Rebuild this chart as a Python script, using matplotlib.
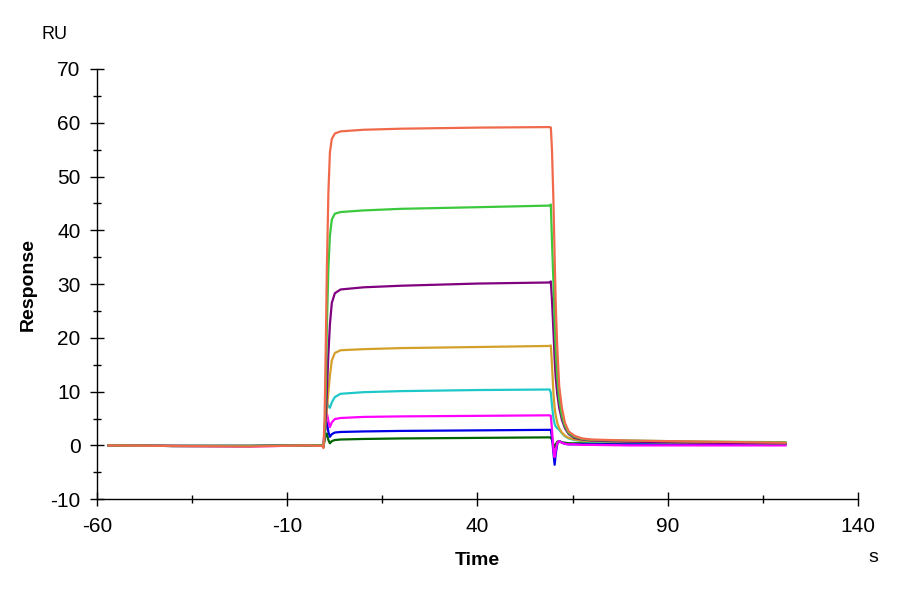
import numpy as np
import matplotlib
matplotlib.use('Agg')
import matplotlib.pyplot as plt
from matplotlib.ticker import MultipleLocator, FixedLocator

plt.rcParams['font.family'] = ['Liberation Sans', 'DejaVu Sans']
plt.rcParams['axes.unicode_minus'] = False

t = [-57, -40, -20, -5, -0.8, -0.5, -0.2, 0.1, 0.4, 0.8, 1.2, 1.7, 2.5, 4, 10, 20, 40,
     59.0, 59.3, 59.6, 60.0, 60.3, 60.6, 61.0, 61.5, 62.2, 63.0, 64.0, 65.5, 67.5, 70, 80, 100, 121]

# Respuesta (RU) de cada concentración
r_darkgreen = [0.0, -0.1, -0.1, 0.0, 0.0, -0.2, 1.0, 2.0, 2.2, 1.0, 0.4, 0.8, 1.0, 1.1, 1.2, 1.3, 1.4,
               1.5, 1.5, 1.0, 0.2, -0.4, 0.2, 0.7, 0.8, 0.6, 0.5, 0.4, 0.4, 0.4, 0.4, 0.3, 0.3, 0.3]
r_blue = [0.0, -0.1, -0.1, 0.0, 0.0, -0.2, 2.0, 4.0, 4.3, 2.5, 1.6, 2.1, 2.4, 2.5, 2.6, 2.7, 2.8,
          2.9, 2.9, 1.5, -1.5, -3.6, -1.5, 0.3, 0.8, 0.5, 0.3, 0.2, 0.2, 0.2, 0.2, 0.2, 0.2, 0.2]
r_magenta = [0.0, -0.1, -0.2, 0.0, 0.0, -0.2, 3.0, 5.5, 6.0, 4.5, 3.4, 4.3, 4.9, 5.1, 5.3, 5.4, 5.5,
             5.6, 5.5, 3.0, -1.0, -2.2, -0.8, 0.5, 0.8, 0.5, 0.3, 0.2, 0.2, 0.1, 0.1, 0.0, 0.0, 0.0]
r_cyan = [0.0, -0.1, -0.1, 0.0, 0.0, -0.2, 3.0, 6.5, 8.0, 7.3, 7.0, 8.0, 9.0, 9.6, 9.9, 10.1, 10.3,
          10.4, 9.8, 7.5, 5.0, 4.0, 3.5, 3.2, 2.9, 2.3, 1.7, 1.3, 1.0, 0.8, 0.7, 0.6, 0.5, 0.4]
r_orange = [0.0, -0.1, -0.1, 0.0, 0.0, -0.2, 1.5, 4.0, 6.5, 10.0, 13.0, 15.8, 17.2, 17.7, 17.9, 18.1, 18.3,
            18.5, 18.6, 15.0, 9.5, 7.0, 5.5, 4.2, 3.2, 2.4, 1.8, 1.4, 1.1, 0.9, 0.8, 0.7, 0.5, 0.4]
r_purple = [0.0, -0.1, -0.1, 0.0, 0.0, -0.2, 1.5, 5.0, 10.0, 17.0, 22.5, 26.5, 28.3, 29.0, 29.4, 29.7, 30.1,
            30.3, 30.5, 27.0, 21.0, 16.0, 12.5, 9.5, 7.0, 4.8, 3.2, 2.1, 1.4, 1.1, 0.9, 0.7, 0.5, 0.4]
r_green = [0.0, -0.1, -0.1, 0.0, 0.0, -0.3, 2.0, 10.0, 22.0, 33.0, 39.0, 42.0, 43.1, 43.4, 43.7, 44.0, 44.3,
           44.6, 44.8, 38.0, 30.0, 23.0, 17.5, 12.5, 8.5, 5.5, 3.6, 2.3, 1.6, 1.2, 1.0, 0.9, 0.7, 0.6]
r_red = [0.0, -0.1, -0.2, 0.0, -0.1, -0.5, 5.0, 18.0, 33.0, 47.0, 54.5, 57.0, 58.0, 58.4, 58.7, 58.9, 59.1,
         59.2, 59.1, 55.0, 45.0, 35.0, 26.0, 18.0, 11.0, 7.0, 4.2, 2.6, 1.8, 1.3, 1.1, 0.9, 0.7, 0.5]

curvas = [
    (r_darkgreen, '#006400'),
    (r_blue, '#0000E6'),
    (r_magenta, '#FF00FF'),
    (r_cyan, '#1EC8C8'),
    (r_orange, '#D4A02A'),
    (r_purple, '#800080'),
    (r_green, '#3CC83C'),
    (r_red, '#F0694B'),
]

x_ticks = [-60, -10, 40, 90, 140]
x_minor = [-35, 15, 65, 115]

fig = plt.figure(figsize=(9, 6), dpi=100)
ax = fig.add_axes([0.108, 0.168, 0.845, 0.717])

for valores, color in curvas:
    ax.plot(t, valores, color=color, lw=1.6)

ax.set_xlim(-60, 140)
ax.set_ylim(-10, 70)
ax.xaxis.set_major_locator(FixedLocator(x_ticks))
ax.xaxis.set_minor_locator(FixedLocator(x_minor))
ax.yaxis.set_major_locator(MultipleLocator(10))
ax.yaxis.set_minor_locator(MultipleLocator(5))

for lado in ['top', 'right']:
    ax.spines[lado].set_visible(False)
ax.spines['left'].set_linewidth(1.0)
ax.spines['bottom'].set_linewidth(1.0)

ax.tick_params(which='major', direction='inout', length=10, width=1.0, labelsize=15)
ax.tick_params(which='minor', direction='inout', length=6, width=1.0)
ax.tick_params(axis='y', pad=7)
ax.tick_params(axis='x', pad=8)

ax.set_xlabel('Time', fontsize=14, fontweight='bold', labelpad=11)
ax.set_ylabel('Response', fontsize=14, fontweight='bold', labelpad=10)
fig.text(0.061, 0.942, 'RU', fontsize=13, ha='center', va='center')
fig.text(0.970, 0.070, 's', fontsize=14, ha='center', va='center')

fig.savefig('out.png', dpi=100)
